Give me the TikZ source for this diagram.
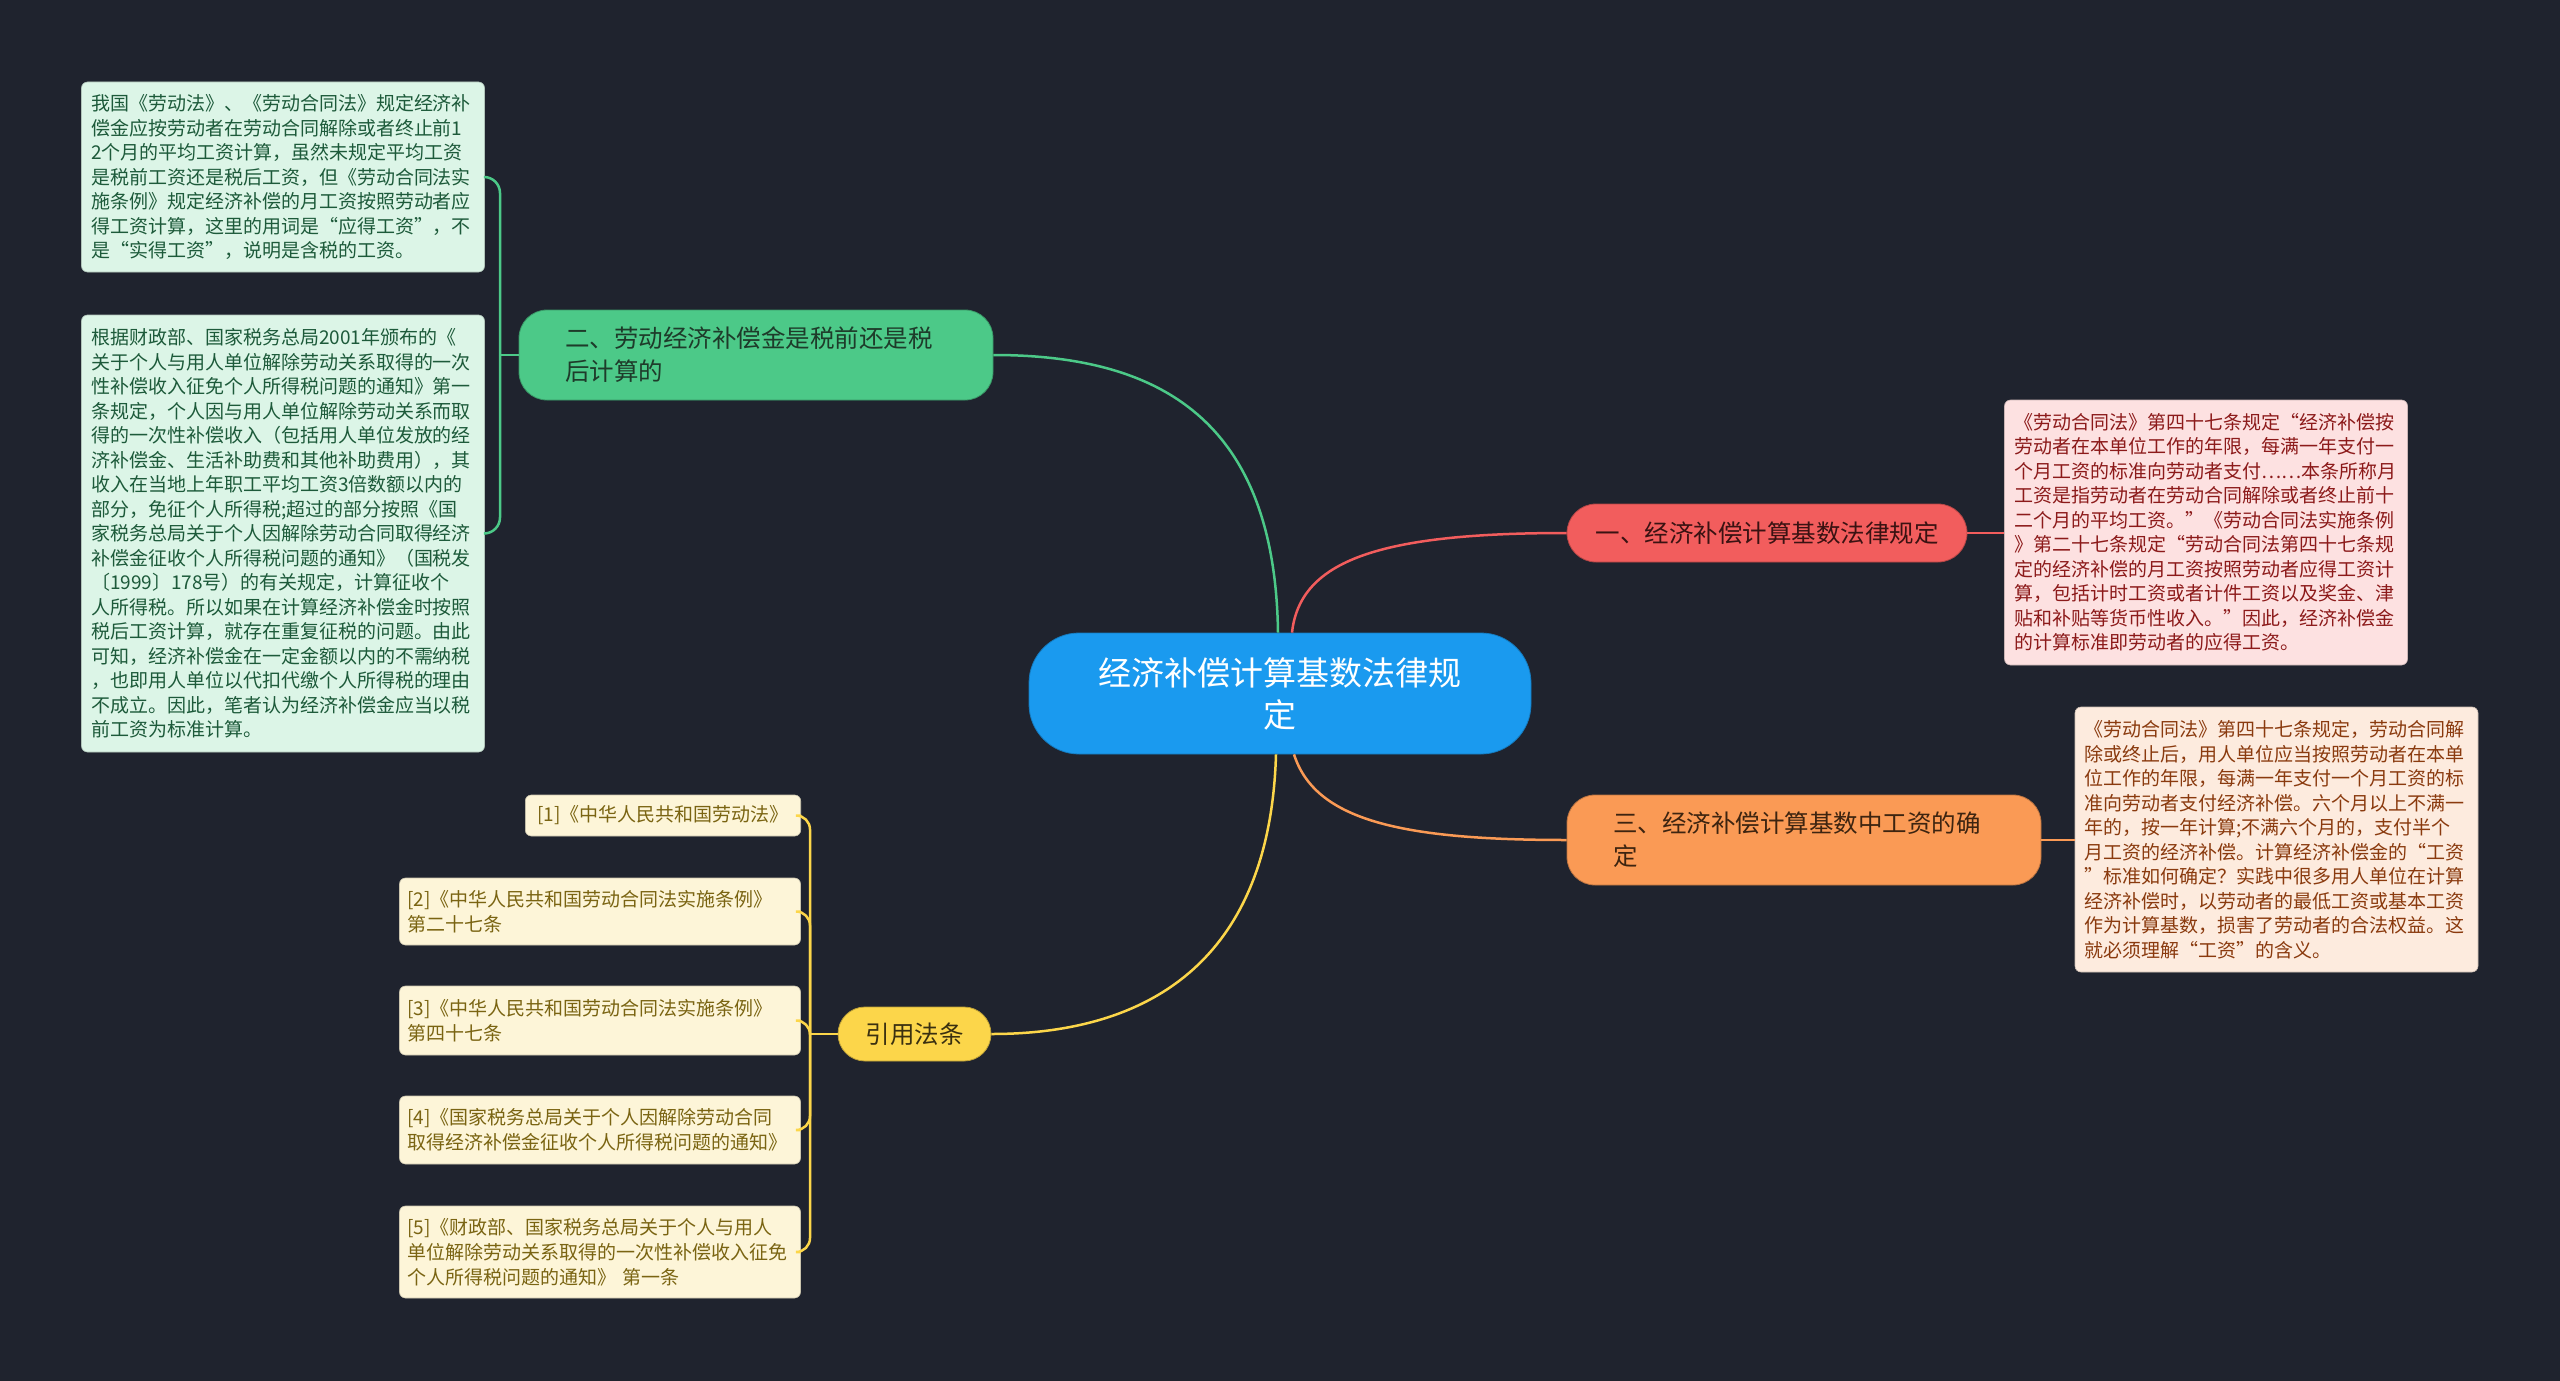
\documentclass[tikz,border=0pt]{standalone}
\usepackage{fontspec}
\setmainfont{Noto Sans CJK SC}
\definecolor{bg}{HTML}{1F232E}
\definecolor{cblue}{HTML}{1A9AEF}
\definecolor{cgreen}{HTML}{4CC988}
\definecolor{cred}{HTML}{F25D5D}
\definecolor{corange}{HTML}{FA9A55}
\definecolor{cyellow}{HTML}{FCD64A}
\definecolor{lgfill}{HTML}{DCF5E7}
\definecolor{lgtext}{HTML}{1D5A3A}
\definecolor{lrfill}{HTML}{FDE1E1}
\definecolor{lrtext}{HTML}{8C1A1A}
\definecolor{lofill}{HTML}{FDEBDE}
\definecolor{lotext}{HTML}{8A3A0E}
\definecolor{lyfill}{HTML}{FDF5D8}
\definecolor{lytext}{HTML}{7A6412}
\definecolor{t2text}{HTML}{1E3B2A}
\definecolor{t1text}{HTML}{3A1212}
\definecolor{t3text}{HTML}{3D2410}
\definecolor{t4text}{HTML}{3A3010}
\begin{document}
\begin{tikzpicture}[x=1pt,y=-1pt,
  leafbox/.style={rounded corners=6pt, align=left, text width=384pt, inner xsep=9.5pt, inner ysep=0pt, font=\fontsize{19}{24.5}\selectfont, anchor=center},
  refbox/.style={rounded corners=6pt, align=left, fill=lyfill, text=lytext, draw=lyfill!80!black, line width=0.6pt, inner ysep=0pt, font=\fontsize{19}{25}\selectfont},
  topic/.style={rounded corners=28pt, align=left, inner ysep=0pt, font=\fontsize{24.5}{33}\selectfont, anchor=center},
  conn/.style={line width=2.5pt},
]
\fill[bg] (0,0) rectangle (2560,1381);
\useasboundingbox (0,0) rectangle (2560,1381);

% central
\node[fill=cblue, draw=cblue!80!black, line width=0.8pt, rounded corners=50pt, text=white, align=center, minimum width=502pt, minimum height=121pt, inner sep=0pt, font=\fontsize{33}{42}\selectfont] (root) at (1280,693.5) {经济补偿计算基数法律规\\定};

% main topics
\node[topic, fill=cgreen, draw=cgreen!75!black, line width=0.8pt, text=t2text, text width=382pt, inner xsep=46pt, minimum height=90pt] (t2) at (756,355) {二、劳动经济补偿金是税前还是税\\后计算的};
\node[topic, fill=cred, draw=cred!75!black, line width=0.8pt, text=t1text, align=center, minimum width=400pt, minimum height=58pt, rounded corners=29pt] (t1) at (1767,533) {一、经济补偿计算基数法律规定};
\node[topic, fill=corange, draw=corange!75!black, line width=0.8pt, text=t3text, text width=382pt, inner xsep=46pt, minimum height=90pt] (t3) at (1804,840) {三、经济补偿计算基数中工资的确\\定};
\node[topic, fill=cyellow, draw=cyellow!75!black, line width=0.8pt, text=t4text, align=center, minimum width=153pt, minimum height=54pt, rounded corners=27pt] (t4) at (914.5,1034) {引用法条};

% left green leaves
\node[leafbox, fill=lgfill, draw=lgfill!80!black, line width=0.6pt, text=lgtext, minimum height=190pt] (g1) at (283,177) {我国《劳动法》、《劳动合同法》规定经济补\\偿金应按劳动者在劳动合同解除或者终止前1\\2个月的平均工资计算，虽然未规定平均工资\\是税前工资还是税后工资，但《劳动合同法实\\施条例》规定经济补偿的月工资按照劳动者应\\得工资计算，这里的用词是“应得工资”，不\\是“实得工资”，说明是含税的工资。};
\node[leafbox, fill=lgfill, draw=lgfill!80!black, line width=0.6pt, text=lgtext, minimum height=437pt] (g2) at (283,533.5) {根据财政部、国家税务总局2001年颁布的《\\关于个人与用人单位解除劳动关系取得的一次\\性补偿收入征免个人所得税问题的通知》第一\\条规定，个人因与用人单位解除劳动关系而取\\得的一次性补偿收入（包括用人单位发放的经\\济补偿金、生活补助费和其他补助费用），其\\收入在当地上年职工平均工资3倍数额以内的\\部分，免征个人所得税;超过的部分按照《国\\家税务总局关于个人因解除劳动合同取得经济\\补偿金征收个人所得税问题的通知》（国税发\\〔1999〕178号）的有关规定，计算征收个\\人所得税。所以如果在计算经济补偿金时按照\\税后工资计算，就存在重复征税的问题。由此\\可知，经济补偿金在一定金额以内的不需纳税\\，也即用人单位以代扣代缴个人所得税的理由\\不成立。因此，笔者认为经济补偿金应当以税\\前工资为标准计算。};

% right leaves
\node[leafbox, fill=lrfill, draw=lrfill!80!black, line width=0.6pt, text=lrtext, minimum height=265pt] (r1) at (2206,532.5) {《劳动合同法》第四十七条规定“经济补偿按\\劳动者在本单位工作的年限，每满一年支付一\\个月工资的标准向劳动者支付……本条所称月\\工资是指劳动者在劳动合同解除或者终止前十\\二个月的平均工资。”《劳动合同法实施条例\\》第二十七条规定“劳动合同法第四十七条规\\定的经济补偿的月工资按照劳动者应得工资计\\算，包括计时工资或者计件工资以及奖金、津\\贴和补贴等货币性收入。”因此，经济补偿金\\的计算标准即劳动者的应得工资。};
\node[leafbox, fill=lofill, draw=lofill!80!black, line width=0.6pt, text=lotext, minimum height=265pt] (r3) at (2276.5,839.5) {《劳动合同法》第四十七条规定，劳动合同解\\除或终止后，用人单位应当按照劳动者在本单\\位工作的年限，每满一年支付一个月工资的标\\准向劳动者支付经济补偿。六个月以上不满一\\年的，按一年计算;不满六个月的，支付半个\\月工资的经济补偿。计算经济补偿金的“工资\\”标准如何确定？实践中很多用人单位在计算\\经济补偿时，以劳动者的最低工资或基本工资\\作为计算基数，损害了劳动者的合法权益。这\\就必须理解“工资”的含义。};

% references
\node[refbox, inner xsep=12pt, minimum height=41pt, anchor=east] (y1) at (801,815.5) {[1]《中华人民共和国劳动法》};
\node[refbox, text width=385pt, inner xsep=8pt, minimum height=67pt] (y2) at (600,911.5) {[2]《中华人民共和国劳动合同法实施条例》\\第二十七条};
\node[refbox, text width=385pt, inner xsep=8pt, minimum height=69pt] (y3) at (600,1020.5) {[3]《中华人民共和国劳动合同法实施条例》\\第四十七条};
\node[refbox, text width=385pt, inner xsep=8pt, minimum height=68pt] (y4) at (600,1130) {[4]《国家税务总局关于个人因解除劳动合同\\取得经济补偿金征收个人所得税问题的通知》};
\node[refbox, text width=385pt, inner xsep=8pt, minimum height=92pt] (y5) at (600,1252) {[5]《财政部、国家税务总局关于个人与用人\\单位解除劳动关系取得的一次性补偿收入征免\\个人所得税问题的通知》 第一条};

% connectors root -> topics
\draw[conn, cgreen] (t2.east) .. controls (1160,355) and (1275,420) .. ([xshift=-2pt]root.north);
\draw[conn, cred] ([xshift=12pt]root.north) .. controls (1300,560) and (1380,533) .. (t1.west);
\draw[conn, corange] ([xshift=14pt]root.south) .. controls (1315,820) and (1400,840) .. (t3.west);
\draw[conn, cyellow] ([xshift=-4pt]root.south) .. controls (1270,960) and (1150,1034) .. (t4.east);

% topic 2 -> green leaves (bracket)
\coordinate (j2) at (500,355);
\draw[conn, cgreen] (t2.west) -- (j2);
\draw[conn, cgreen, rounded corners=16pt] (j2) |- (g1.east);
\draw[conn, cgreen, rounded corners=16pt] (j2) |- (g2.east);

% right leaves
\draw[conn, cred] (t1.east) -- (r1.west |- t1.east);
\draw[conn, corange] (t3.east) -- (r3.west |- t3.east);

% references (bracket)
\coordinate (j4) at (810,1034);
\draw[conn, cyellow] (t4.west) -- (j4);
\foreach \n in {y1,y2,y3,y4,y5}{
  \draw[conn, cyellow, rounded corners=14pt] (j4) |- (\n.east);
}
\end{tikzpicture}
\end{document}
